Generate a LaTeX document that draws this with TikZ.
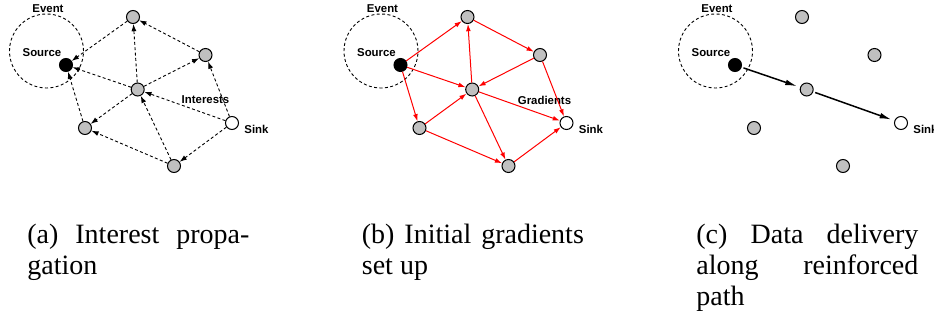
\documentclass[tikz,border=0pt]{standalone}
\usepackage{fontspec}
\setmainfont{Liberation Serif}
\setsansfont{Liberation Sans}
\usepackage{xcolor}
\definecolor{nodegray}{RGB}{192,192,192}
\RequirePackage{tikz}
\usetikzlibrary{arrows.meta}

\tikzset{
	sensor/.style={circle,draw,fill=nodegray,line width=0.5pt,inner sep=0pt,minimum size=6.5pt},
	source/.style={sensor,fill=black},
	sinknode/.style={sensor,fill=white},
	lbl/.style={font=\sffamily\bfseries\fontsize{5.7}{6}\selectfont,inner sep=0pt},
	eventarea/.style={dash pattern=on 1.5pt off 1.2pt,line width=0.45pt},
	interest/.style={dash pattern=on 1.5pt off 1.2pt,line width=0.45pt,-{Latex[length=3.6pt,width=2.5pt]}},
	gradient/.style={red,line width=0.5pt,-{Latex[length=3.6pt,width=2.4pt]}},
	reinforced/.style={line width=0.75pt,-{Latex[length=6pt,width=2.8pt]},shorten >=1.5pt,shorten <=1pt},
	caption/.style={text width=111pt,align=justify,anchor=north west,inner sep=0pt,font=\fontsize{14}{15.5}\selectfont}
}

\newcommand{\sensorfield}{
	\draw[eventarea] (46.5,51) circle [radius=18.5pt];
	\node[lbl] (event) at (48,8.5) {Event};
	\node[lbl] (srclbl) at (42,52.5) {Source};
	\node[source] (src) at (66,65) {};
	\node[sensor] (top) at (133,17) {};
	\node[sensor] (right) at (205.5,55) {};
	\node[sensor] (mid) at (137.7,89.5) {};
	\node[sensor] (left) at (85,128) {};
	\node[sensor] (bottom) at (174,166) {};
	\node[sinknode] (sink) at (232,123) {};
	\node[lbl,anchor=west] (sinklbl) at (244,129) {Sink};
}

\begin{document}
\begin{tikzpicture}[x=0.5pt,y=-0.5pt]
	\useasboundingbox (0,0) rectangle (934,322);
	% (a) interests
	\begin{scope}[name prefix=a-]
		\sensorfield
		\node[lbl] (intlbl) at (205.5,100) {Interests};
		\draw[interest] (top) -- (src);
		\draw[interest] (mid) -- (src);
		\draw[interest] (left) -- (src);
		\draw[interest] (mid) -- (top);
		\draw[interest] (right) -- (top);
		\draw[interest] (mid) -- (right);
		\draw[interest] (sink) -- (right);
		\draw[interest] (mid) -- (left);
		\draw[interest] (sink) -- (mid);
		\draw[interest] (bottom) -- (mid);
		\draw[interest] (bottom) -- (left);
		\draw[interest] (sink) -- (bottom);
		\node[caption] (cap) at (27,224) {(a) Interest propa-\linebreak gation};
	\end{scope}
	% (b) gradients
	\begin{scope}[xshift=167.25pt,name prefix=b-]
		\sensorfield
		\node[lbl] (gradlbl) at (210,100) {Gradients};
		\draw[gradient] (src) -- (top);
		\draw[gradient] (src) -- (mid);
		\draw[gradient] (src) -- (left);
		\draw[gradient] (mid) -- (top);
		\draw[gradient] (top) -- (right);
		\draw[gradient] (right) -- (mid);
		\draw[gradient] (right) -- (sink);
		\draw[gradient] (mid) -- (sink);
		\draw[gradient] (mid) -- (bottom);
		\draw[gradient] (left) -- (mid);
		\draw[gradient] (left) -- (bottom);
		\draw[gradient] (bottom) -- (sink);
		\node[caption] (cap) at (27,224) {(b) Initial gradients\linebreak set up};
	\end{scope}
	% (c) reinforced path
	\begin{scope}[xshift=334.5pt,name prefix=c-]
		\sensorfield
		\draw[reinforced] (src) -- (mid);
		\draw[reinforced] (mid) -- (sink);
		\node[caption] (cap) at (27,224) {(c) Data delivery\linebreak along reinforced\linebreak path};
	\end{scope}
\end{tikzpicture}
\end{document}
